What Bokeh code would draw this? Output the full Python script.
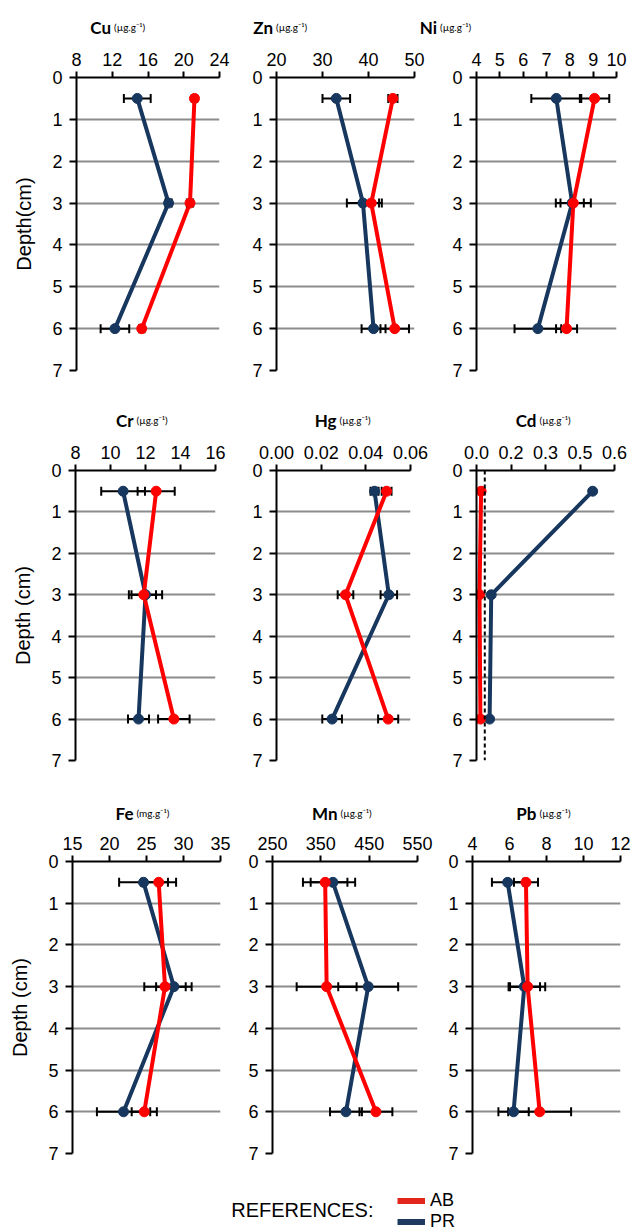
import math
from bokeh.plotting import figure
from bokeh.layouts import column, row
from bokeh.models import (Range1d, FixedTicker, Label, Legend, LegendItem,
                          NumeralTickFormatter, Span)
from bokeh.embed import file_html
from bokeh.resources import INLINE

# ---------------- data ----------------
depth = [0.5, 3, 6]
depth_ticks = [0, 1, 2, 3, 4, 5, 6, 7]

elements = ["Cu", "Zn", "Ni", "Cr", "Hg", "Cd", "Fe", "Mn", "Pb"]
units = ["(µg.g⁻¹)", "(µg.g⁻¹)", "(µg.g⁻¹)",
         "(µg.g⁻¹)", "(µg.g⁻¹)", "(µg.g⁻¹)",
         "(mg.g⁻¹)", "(µg.g⁻¹)", "(µg.g⁻¹)"]
depth_labels = ["Depth(cm)", None, None, "Depth (cm)", None, None, "Depth (cm)", None, None]

cu_ticks = [8, 12, 16, 20, 24]
zn_ticks = [20, 30, 40, 50]
ni_ticks = [4, 5, 6, 7, 8, 9, 10]
cr_ticks = [8, 10, 12, 14, 16]
hg_ticks = [0.00, 0.02, 0.04, 0.06]
cd_ticks = [0.0, 0.15, 0.30, 0.45, 0.60]
cd_tick_labels = ["0.0", "0.2", "0.3", "0.5", "0.6"]
fe_ticks = [15, 20, 25, 30, 35]
mn_ticks = [250, 350, 450, 550]
pb_ticks = [4, 6, 8, 10, 12]
tick_formats = ["0", "0", "0", "0", "0.00", "0.0", "0", "0", "0"]

cu_pr, cu_pr_err = [14.8, 18.3, 12.3], [1.5, 0.35, 1.6]
cu_ab, cu_ab_err = [21.2, 20.7, 15.3], [0.3, 0.35, 0.3]
zn_pr, zn_pr_err = [33.0, 38.8, 41.1], [3.0, 3.5, 2.6]
zn_ab, zn_ab_err = [45.3, 40.6, 45.7], [1.0, 2.3, 3.1]
ni_pr, ni_pr_err = [7.42, 8.1, 6.63], [1.07, 0.5, 1.0]
ni_ab, ni_ab_err = [9.06, 8.15, 7.86], [0.63, 0.75, 0.45]
cr_pr, cr_pr_err = [10.72, 12.0, 11.6], [1.25, 0.95, 0.6]
cr_ab, cr_ab_err = [12.61, 11.9, 13.62], [1.06, 0.7, 0.9]
hg_pr, hg_pr_err = [0.0439, 0.0503, 0.0249], [0.0018, 0.0037, 0.0044]
hg_ab, hg_ab_err = [0.0493, 0.0309, 0.0500], [0.0022, 0.0035, 0.0045]
cd_pr, cd_pr_err = [0.505, 0.064, 0.057], [0, 0, 0]
cd_ab, cd_ab_err = [0.020, 0.013, 0.017], [0, 0, 0]
cd_reference = 0.036
fe_pr, fe_pr_err = [24.6, 28.7, 21.9], [3.3, 2.4, 3.6]
fe_ab, fe_ab_err = [26.65, 27.5, 24.7], [2.35, 2.8, 1.7]
mn_pr, mn_pr_err = [375, 448, 402], [46, 62, 33]
mn_ab, mn_ab_err = [359, 362, 464], [46, 62, 34]
pb_pr, pb_pr_err = [5.9, 6.8, 6.22], [0.85, 0.85, 0.82]
pb_ab, pb_ab_err = [6.89, 6.98, 7.63], [0.65, 0.95, 1.7]

series_names = ["AB", "PR"]
legend_title = "REFERENCES:"

# ---------------- style ----------------
AB_COLOR = "#ff0000"
PR_COLOR = "#17375e"
AB_LEG = "#e2261b"
PR_LEG = "#1f3a60"
GRID = "#8c8c8c"
TICK_FONT = "Liberation Sans"
TITLE_FONT = "Lato"

panels = [
    (cu_ticks, cu_pr, cu_pr_err, cu_ab, cu_ab_err),
    (zn_ticks, zn_pr, zn_pr_err, zn_ab, zn_ab_err),
    (ni_ticks, ni_pr, ni_pr_err, ni_ab, ni_ab_err),
    (cr_ticks, cr_pr, cr_pr_err, cr_ab, cr_ab_err),
    (hg_ticks, hg_pr, hg_pr_err, hg_ab, hg_ab_err),
    (cd_ticks, cd_pr, cd_pr_err, cd_ab, cd_ab_err),
    (fe_ticks, fe_pr, fe_pr_err, fe_ab, fe_ab_err),
    (mn_ticks, mn_pr, mn_pr_err, mn_ab, mn_ab_err),
    (pb_ticks, pb_pr, pb_pr_err, pb_ab, pb_ab_err),
]

# layout geometry (page px, page has no margin)
PAGE_W = 644
fig_lefts = [0, 240, 436]
fig_widths = [240, 196, 208]
frame_lefts = [[76, 276, 476], [75, 276, 476], [72, 272, 472]]
frame_widths = [[143, 138, 140], [140, 134, 138], [148, 145, 148]]
frame_heights = [293, 290, 292]
bottom_borders = [23, 24, 12]
TOP_BORDER = 37
STRIP_H = 40
title_baselines = [13, 13, 11]
title_split_x = [[111.5, 273.5, 437.5], [134, 337, 537], [134, 338, 537]]


def make_panel(i):
    r, c = divmod(i, 3)
    ticks, pr, pr_err, ab, ab_err = panels[i]
    fl = frame_lefts[r][c] - fig_lefts[c]
    fw = frame_widths[r][c]
    fh = frame_heights[r]
    p = figure(frame_width=fw, frame_height=fh,
               x_range=Range1d(ticks[0], ticks[-1]), y_range=Range1d(7, 0),
               x_axis_location="above", output_backend="svg", toolbar_location=None,
               min_border_left=fl, min_border_right=fig_widths[c] - fl - fw,
               min_border_top=TOP_BORDER, min_border_bottom=bottom_borders[r])
    p.outline_line_color = None
    p.xgrid.visible = False
    yt = FixedTicker(ticks=depth_ticks, minor_ticks=[])
    p.yaxis.ticker = yt
    p.ygrid.ticker = yt
    p.ygrid.grid_line_color = GRID
    p.ygrid.grid_line_width = 2
    p.xaxis.ticker = FixedTicker(ticks=ticks, minor_ticks=[])
    p.xaxis.formatter = NumeralTickFormatter(format=tick_formats[i])
    if i == 5:
        p.xaxis.major_label_overrides = dict(zip(cd_ticks, cd_tick_labels))
    for ax in (p.xaxis, p.yaxis):
        ax.axis_line_width = 2
        ax.axis_line_color = "black"
        ax.major_tick_line_width = 2
        ax.major_tick_line_color = "black"
        ax.major_tick_in = 0
        ax.minor_tick_line_color = None
        ax.major_label_text_font = TICK_FONT
        ax.major_label_text_font_size = "18px"
        ax.major_label_text_color = "black"
    p.xaxis.major_tick_out = 6
    p.xaxis.major_label_standoff = 6
    p.yaxis.major_tick_out = 7
    p.yaxis.major_label_standoff = 7
    if depth_labels[i]:
        p.yaxis.axis_label = depth_labels[i]
        p.yaxis.axis_label_text_font = TICK_FONT
        p.yaxis.axis_label_text_font_size = "20px"
        p.yaxis.axis_label_text_font_style = "normal"
        p.yaxis.axis_label_text_color = "black"
        p.yaxis.axis_label_standoff = 14

    if i == 5:
        p.add_layout(Span(location=cd_reference, dimension="height",
                          line_color="black", line_width=2, line_dash="4 3"))

    # lines
    p.line(x=pr, y=depth, line_color=PR_COLOR, line_width=4)
    p.line(x=ab, y=depth, line_color=AB_COLOR, line_width=4)
    # error bars
    for vals, errs in ((pr, pr_err), (ab, ab_err)):
        ys = [d for d, e in zip(depth, errs) if e > 0]
        lo = [v - e for v, e in zip(vals, errs) if e > 0]
        hi = [v + e for v, e in zip(vals, errs) if e > 0]
        if ys:
            p.segment(x0=lo, y0=ys, x1=hi, y1=ys, line_color="black", line_width=2)
            p.scatter(x=lo + hi, y=ys + ys, marker="dash", angle=math.pi / 2, size=9,
                      line_color="black", line_width=2)
    # markers
    p.scatter(x=pr, y=depth, marker="circle", size=10, fill_color=PR_COLOR,
              line_color=PR_COLOR)
    p.scatter(x=ab, y=depth, marker="circle", size=10, fill_color=AB_COLOR,
              line_color=AB_COLOR)
    return p


def make_title_strip(r):
    s = figure(frame_width=PAGE_W, frame_height=STRIP_H, x_axis_type=None,
               y_axis_type=None, toolbar_location=None, output_backend="svg",
               min_border=0, x_range=Range1d(0, 1), y_range=Range1d(0, 1))
    s.outline_line_color = None
    for c in range(3):
        i = r * 3 + c
        sx = title_split_x[r][c]
        yb = title_baselines[r]
        s.add_layout(Label(x=sx - 1, y=yb, x_units="screen", y_units="screen",
                           text=elements[i], text_align="right",
                           text_baseline="alphabetic", text_font=TITLE_FONT,
                           text_font_style="bold", text_font_size="17px",
                           text_color="black"))
        s.add_layout(Label(x=sx + 2, y=yb + 1, x_units="screen", y_units="screen",
                           text=units[i], text_align="left",
                           text_baseline="alphabetic", text_font=TITLE_FONT,
                           text_font_size="10px", text_color="black"))
    return s


figs = [make_panel(i) for i in range(9)]
blocks = []
for r in range(3):
    blocks.append(make_title_strip(r))
    blocks.append(row(*figs[r * 3:(r + 1) * 3]))

# legend strip
lg = figure(frame_width=PAGE_W, frame_height=67, x_axis_type=None, y_axis_type=None,
            toolbar_location=None, output_backend="svg", min_border=0,
            x_range=Range1d(0, 1), y_range=Range1d(0, 1))
lg.outline_line_color = None
r_ab = lg.line(x=[float("nan")], y=[float("nan")], line_color=AB_LEG, line_width=6)
r_pr = lg.line(x=[float("nan")], y=[float("nan")], line_color=PR_LEG, line_width=6)
leg = Legend(items=[LegendItem(label=series_names[0], renderers=[r_ab]),
                    LegendItem(label=series_names[1], renderers=[r_pr])],
             location=(397, 0), orientation="vertical", glyph_width=28,
             glyph_height=21, label_height=21, spacing=0, padding=0, margin=0,
             label_standoff=5, label_text_font=TICK_FONT, label_text_font_size="18px",
             label_text_color="black",
             border_line_color=None, background_fill_alpha=0)
lg.add_layout(leg)
lg.add_layout(Label(x=373, y=23, x_units="screen", y_units="screen",
                    text=legend_title, text_align="right", text_baseline="middle",
                    text_font=TICK_FONT, text_font_size="20px", text_color="black"))
blocks.append(lg)

layout = column(*blocks)
open("out.html", "w").write(file_html(layout, INLINE, "Depth profiles"))
